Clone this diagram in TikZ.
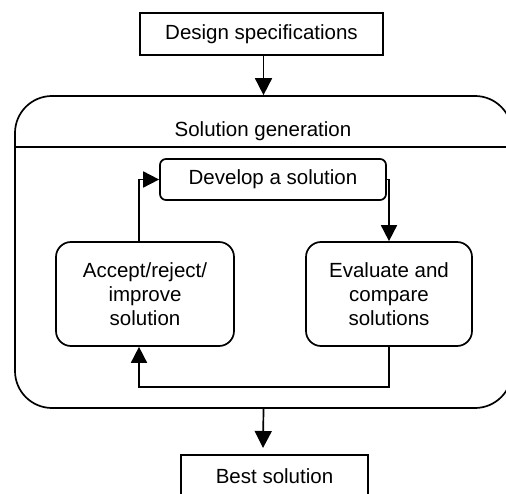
\documentclass[tikz,border=0pt]{standalone}
\usepackage{fontspec}
\setmainfont{Liberation Sans}
\usetikzlibrary{arrows.meta}
\begin{document}
\begin{tikzpicture}[x=1pt,y=-1pt,
  line width=1.7pt,
  every node/.style={font=\fontsize{20.5}{24}\selectfont, align=center, inner sep=0pt},
  sqbox/.style={draw, rectangle},
  rbox/.style={draw, rectangle, rounded corners=#1},
  arr/.style={-{Triangle[width=17pt,length=17pt]}},
  sarr/.style={-{Triangle[width=16pt,length=16pt]}}]
\useasboundingbox (0,0) rectangle (506,494);

% outer frame of the generation stage
\node[rbox=37pt, minimum width=497pt, minimum height=312pt] (gen) at (263.5,252) {};
\draw (gen.west |- 0,147) -- (gen.east |- 0,147);
\node (title) at (263,131) {Solution generation};

% boxes
\node[sqbox, minimum width=243pt, minimum height=42pt] (spec) at (261.5,34) {Design specifications};
\node[sqbox, minimum width=187pt, minimum height=42pt] (best) at (274.5,476) {Best solution};
\node[rbox=6pt, minimum width=226pt, minimum height=41pt] (dev) at (273,179.5) {Develop a solution};
\node[rbox=15pt, minimum width=178pt, minimum height=104pt] (acc) at (145,294) {Accept/reject/\\improve\\solution};
\node[rbox=15pt, minimum width=166pt, minimum height=104pt] (eval) at (389,294) {Evaluate and\\compare\\solutions};

% connectors
\coordinate (bestin) at (263,448);
\draw[arr] (gen.north |- spec.south) -- (gen.north);
\draw[arr] (gen.south) -- (bestin);
\coordinate (accn) at ([xshift=-6pt]acc.north);
\coordinate (accs) at ([xshift=-6pt]acc.south);
\draw[sarr] (accn) |- (dev.west);
\draw[sarr] (dev.east) -| (eval.north);
\coordinate (loop) at (0,387);
\draw[sarr] (eval.south) -- (eval.south |- loop) -| (accs);
\end{tikzpicture}
\end{document}
